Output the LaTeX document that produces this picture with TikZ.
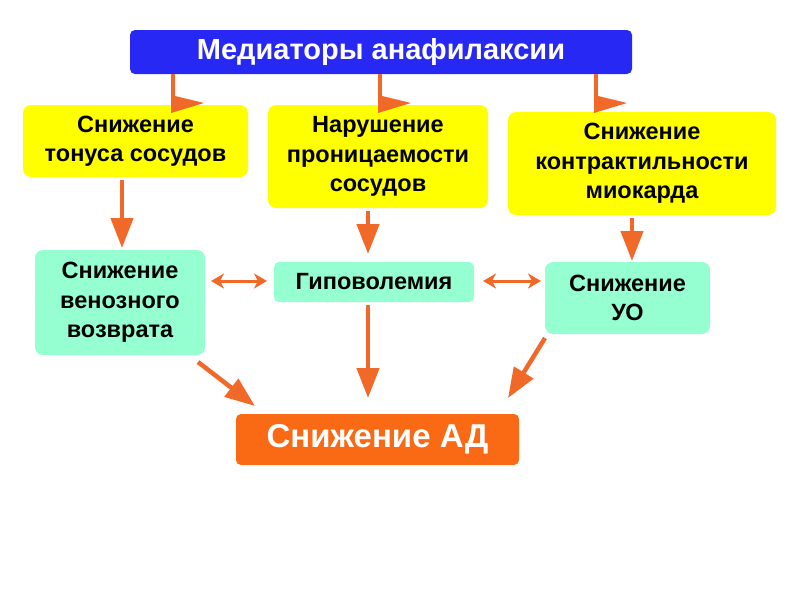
\documentclass[tikz,border=0pt]{standalone}
\usepackage{fontspec}
\setmainfont{Liberation Sans}
\usetikzlibrary{arrows.meta,positioning}
\definecolor{tblue}{RGB}{40,40,245}
\definecolor{tyellow}{RGB}{255,255,0}
\definecolor{tgreen}{RGB}{150,255,210}
\definecolor{torange}{RGB}{250,105,20}
\definecolor{tarrow}{RGB}{240,105,40}
\begin{document}
\begin{tikzpicture}[x=1pt,y=-1pt,
  box/.style={rounded corners=8pt,align=center,inner sep=0pt,font=\bfseries\fontsize{23.5}{29.5}\selectfont},
  ybox/.style={box,fill=tyellow},
  gbox/.style={box,fill=tgreen},
  arr/.style={draw=tarrow,line width=4.5pt,-{Triangle[width=22pt,length=30pt]}},
  darr/.style={draw=tarrow,line width=3pt,{Stealth[width=15pt,length=13pt,inset=4pt]}-{Stealth[width=15pt,length=13pt,inset=4pt]}},
]
\useasboundingbox (0,0) rectangle (800,600);
\fill[white] (0,0) rectangle (800,600);
% nodes
\node[box,fill=tblue,text=white,minimum width=502pt,minimum height=44pt,rounded corners=5pt,font=\bfseries\fontsize{29}{33}\selectfont] (med) at (381,52) {Медиаторы анафилаксии};
\node[ybox,minimum width=225pt,minimum height=72pt] (y1) at (135.5,141) {Снижение\\тонуса сосудов};
\node[ybox,minimum width=220pt,minimum height=103pt] (y2) at (378,156.5) {Нарушение\\проницаемости\\сосудов};
\node[ybox,minimum width=268pt,minimum height=103pt] (y3) at (642,163.5) {Снижение\\контрактильности\\миокарда};
\node[gbox,minimum width=170pt,minimum height=105pt] (g1) at (120,302.5) {Снижение\\венозного\\возврата};
\node[gbox,minimum width=200pt,minimum height=40pt,rounded corners=5pt] (g2) at (374,282) {Гиповолемия};
\node[gbox,minimum width=165pt,minimum height=72pt] (g3) at (627.5,298) {Снижение\\УО};
\node[box,fill=torange,text=white,minimum width=283pt,minimum height=51pt,rounded corners=5pt,font=\bfseries\fontsize{33}{38}\selectfont] (ad) at (377.5,439.5) {Снижение АД};
% top odd arrows
\foreach \x in {173,380,596}{
  \draw[tarrow,line width=4pt] (\x,74) -- (\x,110);
  \fill[tarrow] (\x-2,95) -- (\x+31,103) -- (\x-2,113) -- cycle;
}
% vertical arrows
\draw[arr] (122,180) -- (122,248);
\draw[arr] (368,211) -- (368,254);
\draw[arr] (632,218) -- (632,261);
\draw[arr] (368,305) -- (368,398);
\draw[arr] (198,362) -- (255,406);
\draw[arr] (545,338) -- (508,398);
% double arrows
\draw[darr] (211,281) -- (267,281);
\draw[darr] (483,281) -- (541,281);
\end{tikzpicture}
\end{document}
